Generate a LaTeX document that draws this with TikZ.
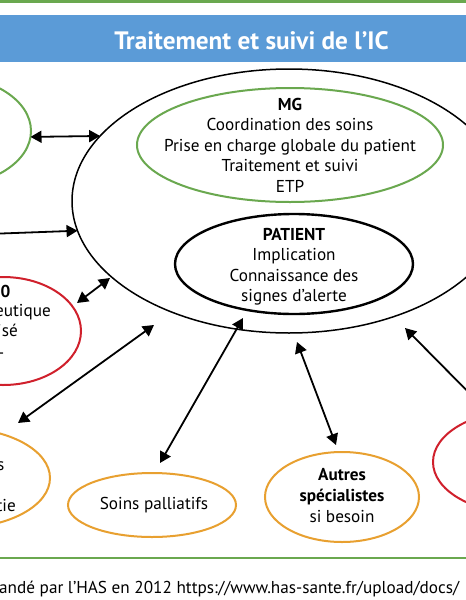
\documentclass[tikz,border=0pt]{standalone}
\usepackage{fontspec}
\setmainfont{PT Sans}
\usetikzlibrary{arrows.meta,shapes.geometric}
\definecolor{hasgreen}{RGB}{106,168,79}
\definecolor{hasblue}{RGB}{91,155,215}
\definecolor{hasred}{RGB}{208,32,44}
\definecolor{hasorange}{RGB}{232,160,48}
\begin{document}
\begin{tikzpicture}[x=1pt,y=-1pt,
  oval/.style={ellipse, draw, line width=2pt, inner sep=0pt, outer sep=0pt},
  lbl/.style={anchor=base, inner sep=0pt, font=\fontsize{17.2}{20}\selectfont},
  lblb/.style={lbl, font=\bfseries\fontsize{17.2}{20}\selectfont},
  frag/.style={anchor=base east, inner sep=0pt, font=\fontsize{17.2}{20}\selectfont},
  dar/.style={{Triangle[length=11pt,width=12pt]}-{Triangle[length=11pt,width=12pt]}, line width=1.8pt},
  sar/.style={-{Triangle[length=11pt,width=12pt]}, line width=1.8pt}]
\useasboundingbox (0,0) rectangle (466,600);
\clip (0,0) rectangle (466,600);
\fill[white] (0,0) rectangle (466,600);
\fill[hasgreen] (0,0) rectangle (466,2.5);
\fill[hasblue] (0,15) rectangle (466,62);
\node[anchor=base, inner sep=0pt, text=white, font=\bfseries\fontsize{25.2}{28}\selectfont] (title) at (251.5,49.3) {Traitement et suivi de l’IC};
% ellipses
\node[oval, line width=1.5pt, minimum width=434pt, minimum height=264pt] (big) at (289,201) {};
\node[oval, draw=hasgreen, minimum width=306pt, minimum height=114pt] (mg) at (290,145) {};
\node[oval, line width=2.4pt, minimum width=238pt, minimum height=100pt] (patient) at (294,264) {};
\node[oval, draw=hasgreen, minimum width=170pt, minimum height=110pt] (cardio) at (-54,131) {};
\node[oval, draw=hasred, minimum width=156pt, minimum height=108pt] (etp) at (3,331) {};
\node[oval, draw=hasorange, minimum width=184pt, minimum height=100pt] (infirm) at (-42,478) {};
\node[oval, draw=hasorange, minimum width=168pt, minimum height=64pt] (soins) at (152,505) {};
\node[oval, draw=hasorange, minimum width=154pt, minimum height=90pt] (autres) at (342,497) {};
\node[oval, draw=hasred, minimum width=174pt, minimum height=102pt] (red2) at (520,462) {};
% texts
\node[lblb] (mg1) at (290,110) {MG};
\node[lbl] (mg2) at (290,130.5) {Coordination des soins};
\node[lbl] (mg3) at (290,151) {Prise en charge globale du patient};
\node[lbl] (mg4) at (290,171.5) {Traitement et suivi};
\node[lbl] (mg5) at (290,192) {ETP};
\node[lblb] (pa1) at (294,240) {PATIENT};
\node[lbl] (pa2) at (294,260.5) {Implication};
\node[lbl] (pa3) at (294,281) {Connaissance des};
\node[lbl] (pa4) at (294,301.5) {signes d’alerte};
\node[lblb] (au1) at (342,480.7) {Autres};
\node[lblb] (au2) at (342,501.7) {spécialistes};
\node[lbl] (au3) at (342,522.3) {si besoin};
\node[lbl] (so1) at (154,509.3) {Soins palliatifs};
\node[frag, font=\bfseries\fontsize{17.2}{20}\selectfont] (et1) at (10.5,297) {0};
\node[frag] (et2) at (51,316.7) {eutique};
\node[frag] (et3) at (18,336.7) {isé};
\node[frag] (et4) at (5.5,358) {–};
\node[frag] (in1) at (4.5,470) {s};
\node[frag] (in2) at (16,511.7) {tie};
% bottom
\fill[hasgreen] (0,556.8) rectangle (466,559.3);
\node[anchor=base west, inner sep=0pt, font=\fontsize{17.2}{20}\selectfont] (cap) at (-1,593) {andé par l’HAS en 2012 https://www.has-sante.fr/upload/docs/};
% arrows
\coordinate (offL) at (-40,235);
\coordinate (a3a) at (77,303);
\coordinate (a3b) at (110,278);
\coordinate (a4a) at (18,423);
\coordinate (a4b) at (154,325);
\coordinate (a5a) at (243,318);
\coordinate (a5b) at (160,463);
\coordinate (a6a) at (297,342);
\coordinate (a6b) at (336,445);
\coordinate (a7a) at (405,328);
\coordinate (a7b) at (490,414);
\draw[dar] (cardio.-4) -- (big.161.65);
\draw[sar] (offL) -- (big.188.4);
\draw[dar] (a3a) -- (a3b);
\draw[dar] (a4a) -- (a4b);
\draw[dar] (a5a) -- (a5b);
\draw[dar] (a6a) -- (a6b);
\draw[dar] (a7a) -- (a7b);
\end{tikzpicture}
\end{document}
